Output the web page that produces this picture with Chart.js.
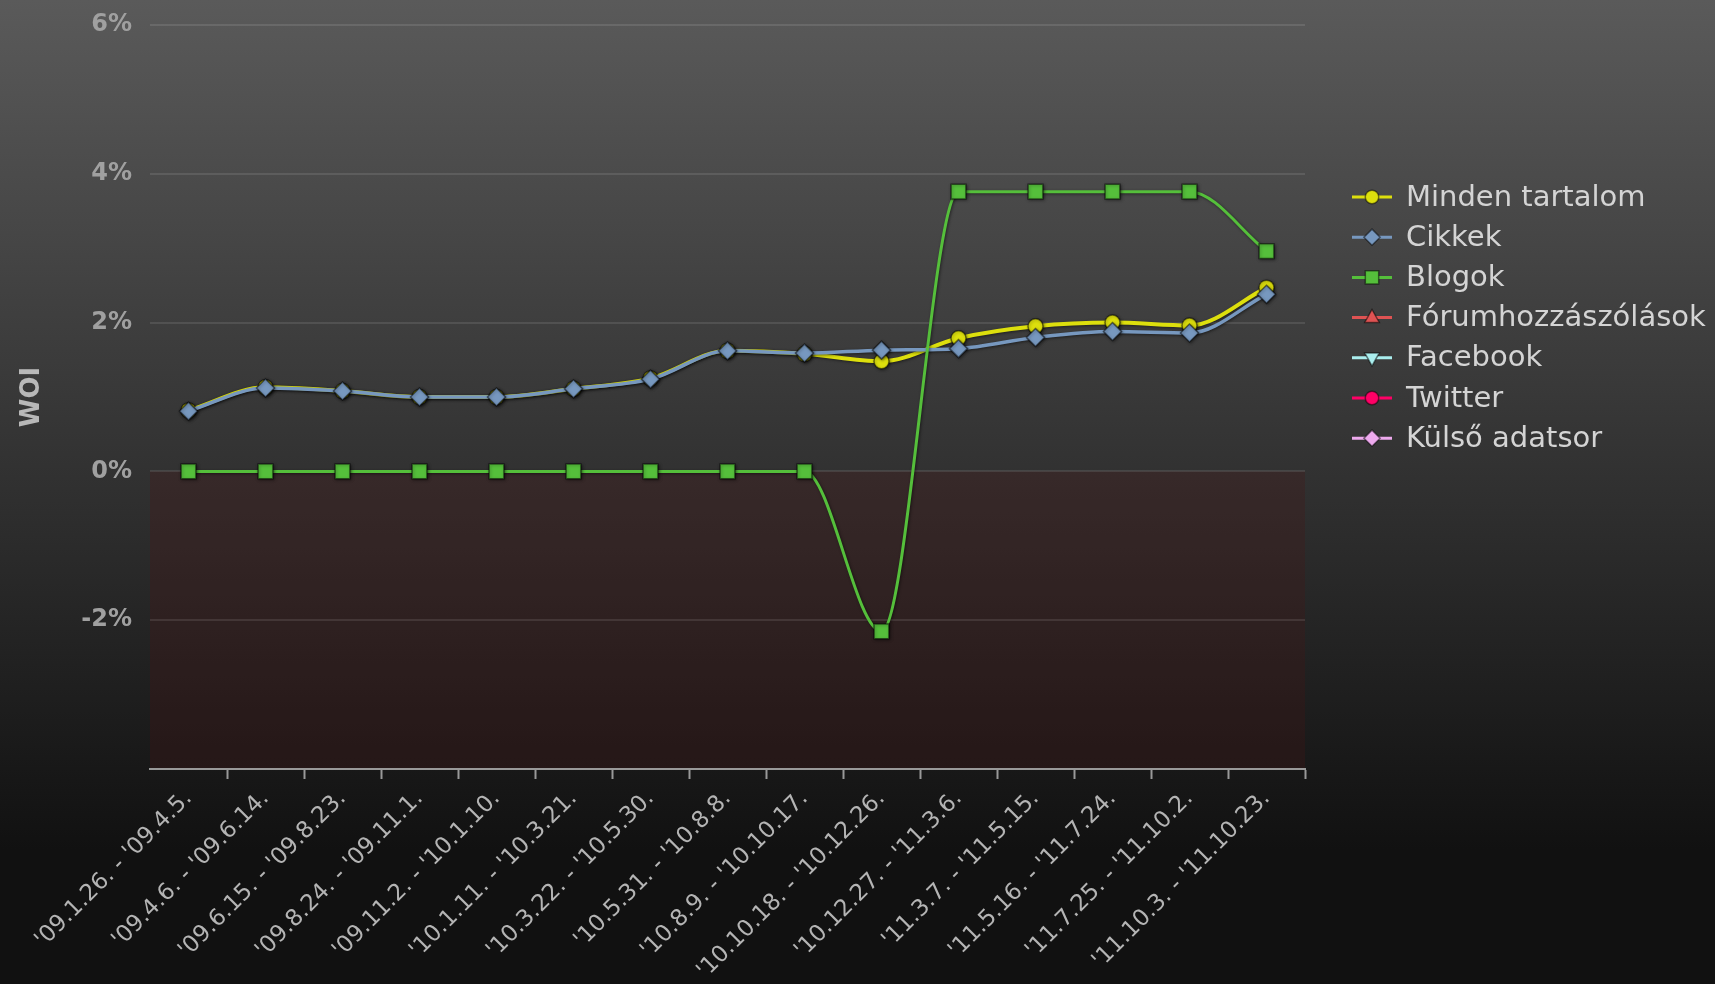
<!DOCTYPE html>
<html><head><meta charset="utf-8">
<script src="https://cdn.jsdelivr.net/npm/chart.js@4.4.1/dist/chart.umd.min.js"></script>
<style>html,body{margin:0;padding:0;background:#111;overflow:hidden}#c{display:block}</style>
</head><body>
<canvas id="c" width="1715" height="984"></canvas>
<script>
const categories = ["'09.1.26. - '09.4.5.","'09.4.6. - '09.6.14.","'09.6.15. - '09.8.23.","'09.8.24. - '09.11.1.","'09.11.2. - '10.1.10.","'10.1.11. - '10.3.21.","'10.3.22. - '10.5.30.","'10.5.31. - '10.8.8.","'10.8.9. - '10.10.17.","'10.10.18. - '10.12.26.","'10.12.27. - '11.3.6.","'11.3.7. - '11.5.15.","'11.5.16. - '11.7.24.","'11.7.25. - '11.10.2.","'11.10.3. - '11.10.23."];
const mindenTartalom = [0.82,1.13,1.08,1.00,1.00,1.11,1.25,1.62,1.58,1.48,1.79,1.95,2.00,1.96,2.47];
const cikkek = [0.81,1.12,1.08,1.00,1.00,1.11,1.24,1.62,1.59,1.63,1.65,1.80,1.88,1.86,2.38];
const blogok = [0,0,0,0,0,0,0,0,0,-2.15,3.76,3.76,3.76,3.76,2.96];
const forumhozzaszolasok = [];
const facebook = [];
const twitter = [];
const kulsoAdatsor = [];
const seriesNames = ["Minden tartalom","Cikkek","Blogok","Fórumhozzászólások","Facebook","Twitter","Külső adatsor"];
const seriesColors = ["#DDDF0D","#7798BF","#55BF3B","#DF5353","#aaeeee","#ff0066","#eeaaee"];
const seriesStyles = ["circle","rectRot","rect","triangle","triangleDown","circle","rectRot"];
const yAxisTitle = "WOI";
const yMin = -4, yMax = 6, yStep = 2;

const seriesData = [mindenTartalom,cikkek,blogok,forumhozzaszolasok,facebook,twitter,kulsoAdatsor];
const radii = {circle:7.5, rectRot:9, rect:10.5, triangle:9, triangleDown:9};
const orders = [3,2,1,0,0,0,0];

function drawMarker(ctx, style, x, y, r, fill){
  ctx.save();
  ctx.fillStyle = fill; ctx.strokeStyle = 'rgba(0,0,0,0.5)'; ctx.lineWidth = 1.5;
  ctx.beginPath();
  if (style === 'circle') ctx.arc(x,y,r,0,Math.PI*2);
  else if (style === 'rectRot') { ctx.moveTo(x,y-r); ctx.lineTo(x+r,y); ctx.lineTo(x,y+r); ctx.lineTo(x-r,y); ctx.closePath(); }
  else if (style === 'rect') { const s=r*Math.SQRT1_2; ctx.rect(x-s,y-s,2*s,2*s); }
  else if (style === 'triangle') { ctx.moveTo(x,y-r); ctx.lineTo(x+r*0.9,y+r*0.6); ctx.lineTo(x-r*0.9,y+r*0.6); ctx.closePath(); }
  else if (style === 'triangleDown') { ctx.moveTo(x,y+r); ctx.lineTo(x+r*0.9,y-r*0.6); ctx.lineTo(x-r*0.9,y-r*0.6); ctx.closePath(); }
  ctx.fill(); ctx.stroke();
  ctx.restore();
}

const bgPlugin = {
  id: 'bg',
  beforeDraw(chart){
    const ctx = chart.ctx, w = chart.width, h = chart.height;
    const g = ctx.createLinearGradient(0,0,0,850);
    g.addColorStop(0,'rgb(90,90,90)');
    g.addColorStop(1,'rgb(17,17,17)');
    ctx.save();
    ctx.fillStyle = g; ctx.fillRect(0,0,w,h);
    const a = chart.chartArea, ys = chart.scales.y;
    const y0 = ys.getPixelForValue(0);
    ctx.fillStyle = 'rgba(72,20,20,0.28)';
    ctx.fillRect(a.left, y0, a.right - a.left, a.bottom - y0);
    ctx.restore();
  }
};
const shadowPlugin = {
  id: 'shadow',
  beforeDatasetDraw(chart){
    const ctx = chart.ctx; ctx.save();
    ctx.shadowColor = 'rgba(0,0,0,0.5)'; ctx.shadowBlur = 3; ctx.shadowOffsetX = 1; ctx.shadowOffsetY = 1;
  },
  afterDatasetDraw(chart){ chart.ctx.restore(); }
};
const legendPlugin = {
  id: 'customLegend',
  afterDraw(chart){
    const ctx = chart.ctx;
    ctx.save();
    chart.data.datasets.forEach((ds,i)=>{
      const y = 197 + i*40.2;
      ctx.strokeStyle = ds.borderColor; ctx.lineWidth = 3;
      ctx.beginPath(); ctx.moveTo(1352,y); ctx.lineTo(1392,y); ctx.stroke();
      drawMarker(ctx, seriesStyles[i], 1372, y, radii[seriesStyles[i]]*0.9, ds.borderColor);
      ctx.font = '29px "DejaVu Sans"';
      ctx.fillStyle = '#d4d4d4'; ctx.textBaseline = 'middle'; ctx.textAlign = 'left';
      ctx.fillText(ds.label, 1406, y+1);
    });
    ctx.restore();
  }
};

const datasets = seriesNames.map((name,i)=>{
  const st = seriesStyles[i];
  return {
    label: name,
    data: seriesData[i],
    borderColor: seriesColors[i],
    backgroundColor: seriesColors[i],
    pointBackgroundColor: seriesColors[i],
    pointBorderColor: 'rgba(0,0,0,0.5)',
    pointBorderWidth: 1.5,
    pointStyle: st === 'triangleDown' ? 'triangle' : st,
    rotation: st === 'triangleDown' ? 180 : 0,
    pointRadius: radii[st],
    pointHoverRadius: radii[st],
    borderWidth: i === 0 ? 4 : (i === 1 ? 3.5 : 3),
    cubicInterpolationMode: 'monotone',
    order: orders[i],
    clip: false,
    fill: false
  };
});

new Chart(document.getElementById('c'), {
  type: 'line',
  data: { labels: categories, datasets },
  options: {
    responsive: false,
    animation: false,
    devicePixelRatio: 1,
    layout: { padding: { top: 25, right: 410, bottom: 0, left: 0 } },
    plugins: { legend: { display: false }, tooltip: { enabled: false } },
    scales: {
      x: {
        type: 'category',
        offset: true,
        afterFit(s){ s.height = 215; },
        grid: { display: true, drawOnChartArea: false, drawTicks: true, tickLength: 10, tickWidth: 2, offset: true,
          tickColor: (c)=> c.index === 0 ? 'rgba(0,0,0,0)' : '#999' },
        border: { display: true, color: '#999', width: 2 },
        ticks: { minRotation: 45, maxRotation: 45, autoSkip: false, padding: 6, color: '#b4b4b4',
          font: { family: 'DejaVu Sans', size: 23 } }
      },
      y: {
        min: yMin, max: yMax,
        afterFit(s){ s.width = 150; s.paddingTop = 0; s.paddingBottom = 0; },
        grid: { color: (c)=> c.tick && c.tick.value === yMin ? 'rgba(0,0,0,0)' : 'rgba(255,255,255,0.1)', lineWidth: 2, drawTicks: false },
        border: { display: false },
        ticks: { stepSize: yStep, padding: 18, color: '#a0a0a0', font: { family: 'DejaVu Sans', size: 24, weight: 'bold' },
          callback: (v)=> v === yMin ? '' : v + '%' },
        title: { display: true, text: yAxisTitle, color: '#b8b8b8', font: { family: 'DejaVu Sans', size: 26, weight: 'bold' }, padding: { top: 17, bottom: 0 } }
      }
    }
  },
  plugins: [bgPlugin, shadowPlugin, legendPlugin]
});
</script>
</body></html>
